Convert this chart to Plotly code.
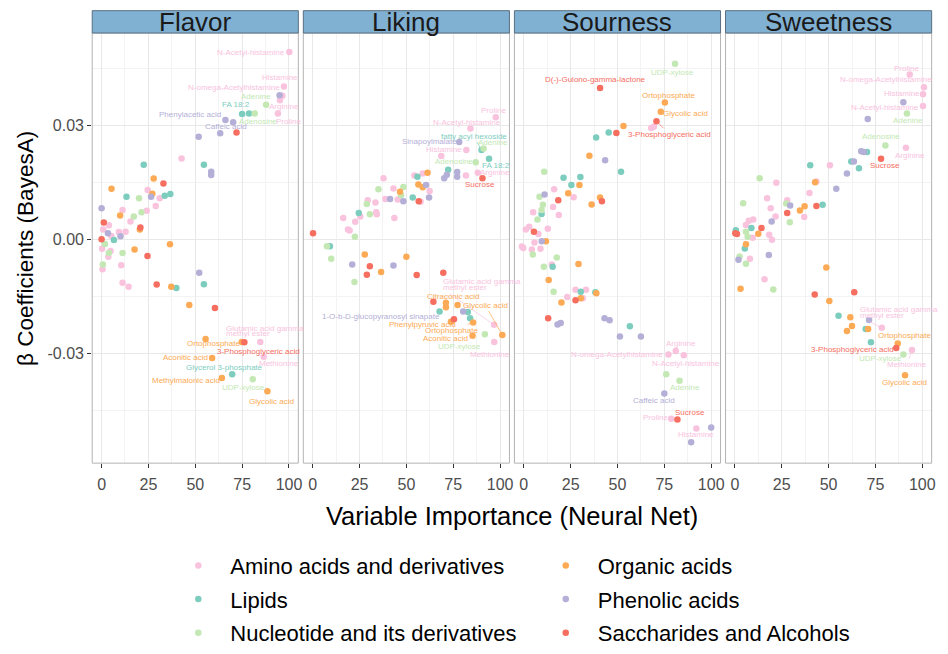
import plotly.graph_objects as go

# ---------------- data ----------------
categories = ["Amino acids and derivatives", "Lipids", "Nucleotide and its derivatives",
              "Organic acids", "Phenolic acids", "Saccharides and Alcohols"]
cat_codes = ["A", "L", "N", "O", "P", "S"]
cat_colors = ["#F9C3DE", "#7DCDBE", "#C3E8B4", "#FCAA55", "#B4AFD7", "#F56E5F"]
panels = ["Flavor", "Liking", "Sourness", "Sweetness"]

x_ticks = [0, 25, 50, 75, 100]
y_ticks = [-0.03, 0.0, 0.03]
y_ticktext = ["-0.03", "0.00", "0.03"]

flavor_x = [100.2, 97.3, 95.0, 96.5, 95.2, 87.8, 75.0, 78.7, 81.7, 94.1, 66.1, 70.2, 72.0, 63.3, 51.8,
            42.7, 22.5, 54.6, 58.5, 58.5, 27.8, 33.0, 5.3, 13.3, 20.0, 24.6, 26.4, 27.1, 31.0, 33.7,
            36.7, 28.9, 0.0, 11.2, 9.9, 17.2, 21.3, 24.1, 15.4, 1.2, 3.9, 20.7, 20.4, 0.9, 9.2,
            12.8, 3.4, 5.2, 10.1, 6.6, 0.0, 1.8, 0.3, 36.5, 17.6, 4.8, 3.9, 11.2, 3.6, 24.5,
            0.7, 0.5, 10.5, 52.1, 11.2, 14.4, 29.4, 37.2, 39.9, 54.6, 46.8, 60.5, 55.5, 74.8, 76.2,
            84.7, 86.5, 59.0, 69.7, 64.2, 80.7, 88.5]
flavor_y = [0.0493, 0.0402, 0.0379, 0.0378, 0.0366, 0.0354, 0.0330, 0.0331, 0.0331, 0.0331, 0.0314,
            0.0308, 0.0281, 0.0279, 0.0270, 0.0213, 0.0196, 0.0196, 0.0178, 0.0169, 0.0160, 0.0147,
            0.0133, 0.0112, 0.0108, 0.0130, 0.0112, 0.0120, 0.0108, 0.0115, 0.0119, 0.0088, 0.0082,
            0.0077, 0.0063, 0.0060, 0.0071, 0.0075, 0.0047, 0.0044, 0.0037, 0.0031, 0.0026, 0.0026,
            0.0019, 0.0020, 0.0016, 0.0009, 0.0008, -0.0002, 0.0000, -0.0012, -0.0025, -0.0013,
            -0.0027, -0.0031, -0.0036, -0.0036, -0.0046, -0.0044, -0.0066, -0.0079, -0.0068, -0.0088,
            -0.0114, -0.0125, -0.0119, -0.0125, -0.0128, -0.0118, -0.0173, -0.0181, -0.0262, -0.0270,
            -0.0271, -0.0270, -0.0309, -0.0312, -0.0355, -0.0365, -0.0368, -0.0400]
flavor_cat = ["A", "A", "P", "A", "A", "N", "L", "L", "N", "A", "P", "P", "S", "P", "P",
              "A", "L", "L", "P", "P", "O", "S", "O", "L", "N", "A", "P", "O", "A", "L",
              "L", "A", "P", "A", "O", "N", "N", "A", "A", "S", "A", "S", "O", "A", "A",
              "A", "P", "A", "P", "L", "S", "N", "A", "O", "O", "A", "N", "N", "A", "S",
              "N", "A", "A", "P", "A", "A", "S", "O", "L", "L", "O", "S", "O", "O", "S",
              "A", "A", "O", "L", "O", "N", "O"]
flavor_label = ["N-Acetyl-histamine", "Histamine", "", "N-omega-Acetylhistamine", "Arginine", "Adenine",
                "FA 18:2", "", "Adenosine", "Proline", "Phenylacetic acid", "", "", "Caffeic acid"] + [""] * 58 + \
               ["Ortophosphate", "", "3-Phosphoglyceric acid", "Glutamic acid gamma\nmethyl ester", "Methionine",
                "Aconitic acid", "Glycerol 3-phosphate", "Methylmalonic acid", "UDP-xylose", "Glycolic acid"]

liking_x = [97.7, 84.2, 78.2, 90.1, 91.2, 82.0, 94.1, 68.6, 87.0, 72.3, 77.1, 77.1, 71.6, 70.2, 81.8,
            88.1, 90.6, 61.3, 55.9, 58.7, 54.3, 56.4, 58.7, 60.5, 62.4, 62.1, 53.4, 56.6, 57.6, 46.6,
            48.4, 43.1, 47.2, 48.4, 45.4, 38.8, 41.3, 37.8, 35.1, 29.4, 28.9, 33.5, 30.5, 33.9, 34.2,
            43.6, 24.6, 25.4, 16.3, 22.7, 18.8, 19.7, 22.5, 0.2, 7.6, 9.2, 9.9, 27.8, 21.1, 30.5,
            28.9, 36.5, 43.1, 50.0, 55.5, 22.3, 69.7, 64.4, 71.1, 71.1, 77.3, 67.7, 80.3, 82.8, 84.0,
            75.4, 73.8, 85.6, 96.8, 101.2, 85.3, 91.9, 96.9]
liking_y = [0.0321, 0.0292, 0.0256, 0.0235, 0.0239, 0.0235, 0.0212, 0.0219, 0.0203, 0.0183, 0.0177,
            0.0165, 0.0170, 0.0161, 0.0168, 0.0175, 0.0161, 0.0175, 0.0165, 0.0173, 0.0168, 0.0144,
            0.0137, 0.0143, 0.0127, 0.0110, 0.0110, 0.0100, 0.0099, 0.0125, 0.0138, 0.0134, 0.0116,
            0.0100, 0.0105, 0.0106, 0.0106, 0.0161, 0.0132, 0.0103, 0.0093, 0.0097, 0.0066, 0.0071,
            0.0066, 0.0056, 0.0069, 0.0060, 0.0056, 0.0046, 0.0026, 0.0023, 0.0007, 0.0016, -0.0018,
            -0.0018, -0.0051, -0.0040, -0.0066, -0.0071, -0.0093, -0.0086, -0.0069, -0.0046, -0.0094,
            -0.0112, -0.0088, -0.0164, -0.0167, -0.0179, -0.0173, -0.0190, -0.0190, -0.0191, -0.0208,
            -0.0210, -0.0217, -0.0219, -0.0225, -0.0252, -0.0254, -0.0250, -0.0270]
liking_cat = ["A", "A", "P", "L", "N", "A", "L", "A", "N", "L", "P", "P", "P", "P", "A",
              "A", "S", "O", "L", "A", "A", "O", "O", "P", "A", "P", "L", "S", "A", "O",
              "N", "A", "N", "P", "A", "A", "P", "A", "N", "A", "N", "A", "N", "A", "A",
              "A", "L", "A", "A", "A", "A", "A", "N", "S", "N", "L", "N", "O", "P", "S",
              "S", "O", "P", "O", "S", "N", "S", "S", "O", "O", "O", "L", "P", "L", "L",
              "S", "O", "O", "A", "O", "O", "N", "A"]
liking_label = ["Proline", "N-Acetyl-histamine", "Sinapoylmalate", "fatty acyl hexoside", "Adenine",
                "Histamine", "FA 18:2", "", "Adenosine", "", "", "", "", "", "", "Arginine", "Sucrose"] + \
               [""] * 51 + \
               ["Citraconic acid", "", "", "", "1-O-b-D-glucopyranosyl sinapate", "", "", "",
                "Phenylpyruvic acid", "Ortophosphate", "Glutamic acid gamma\nmethyl ester", "Glycolic acid",
                "Aconitic acid", "UDP-xylose", "Methionine"]

sourness_x = [80.7, 40.7, 75.3, 73.1, 70.8, 68.0, 69.4, 53.2, 45.3, 49.4, 38.6, 35.0, 43.4, 10.9, 51.9,
              21.2, 30.2, 25.4, 29.7, 16.2, 11.1, 8.4, 18.4, 23.7, 26.6, 40.7, 41.7, 36.2, 10.2, 15.6,
              9.5, 5.0, 9.5, 18.7, 7.3, 1.1, 2.9, 5.4, 7.8, 12.8, -1.0, -0.3, 5.7, 9.6, 11.8,
              4.3, 8.9, 4.8, 17.6, 10.7, 15.0, 15.4, 29.2, 13.3, 15.9, 27.6, 30.4, 33.2, 23.2, 31.5,
              30.4, 27.6, 20.1, 38.2, 38.7, 13.0, 18.0, 19.7, 43.1, 45.8, 56.6, 51.3, 62.5, 81.1, 77.2,
              85.4, 76.0, 83.1, 75.0, 78.7, 82.0, 92.1, 100.0, 89.3]
sourness_y = [0.0462, 0.0398, 0.0360, 0.0336, 0.0311, 0.0293, 0.0296, 0.0298, 0.0281, 0.0280, 0.0268,
              0.0220, 0.0208, 0.0178, 0.0178, 0.0162, 0.0164, 0.0143, 0.0143, 0.0132, 0.0118, 0.0112,
              0.0103, 0.0121, 0.0111, 0.0110, 0.0100, 0.0092, 0.0091, 0.0085, 0.0077, 0.0071, 0.0067,
              0.0064, 0.0052, 0.0026, 0.0033, 0.0020, 0.0014, 0.0028, -0.0019, -0.0023, -0.0008,
              -0.0005, -0.0005, -0.0027, -0.0025, -0.0040, -0.0048, -0.0072, -0.0066, -0.0072, -0.0065,
              -0.0107, -0.0138, -0.0133, -0.0138, -0.0133, -0.0152, -0.0155, -0.0155, -0.0160, -0.0166,
              -0.0139, -0.0142, -0.0208, -0.0224, -0.0220, -0.0208, -0.0213, -0.0229, -0.0256, -0.0256,
              -0.0294, -0.0303, -0.0305, -0.0355, -0.0372, -0.0406, -0.0472, -0.0474, -0.0498, -0.0495,
              -0.0534]
sourness_cat = ["N", "S", "O", "O", "S", "A", "A", "O", "L", "S", "L", "O", "P", "N", "L",
                "L", "L", "L", "O", "A", "P", "N", "S", "O", "A", "O", "S", "O", "N", "A",
                "N", "A", "L", "A", "N", "A", "A", "S", "A", "A", "A", "A", "A", "P", "O",
                "A", "A", "N", "N", "N", "A", "L", "O", "O", "N", "A", "L", "A", "A", "A",
                "O", "S", "O", "L", "O", "S", "P", "P", "P", "P", "L", "P", "P", "A", "A",
                "A", "N", "N", "P", "A", "S", "A", "P", "P"]
sourness_label = ["UDP-xylose", "D(-)-Gulono-gamma-lactone", "Ortophosphate", "Glycolic acid",
                  "3-Phosphoglyceric acid"] + [""] * 68 + \
                 ["Arginine", "N-omega-Acetylhistamine", "N-Acetyl-histamine", "", "Adenine", "Caffeic acid",
                  "Proline", "Sucrose", "Histamine", "", ""]

sweetness_x = [93.3, 100.9, 100.4, 89.9, 100.4, 91.8, 70.9, 80.3, 91.3, 67.4, 68.8, 70.5, 78.0, 40.2, 50.7,
               62.1, 63.5, 66.2, 59.8, 13.2, 22.1, 42.8, 43.5, 54.1, 39.8, 17.2, 27.9, 4.4, 27.4, 29.5,
               19.1, 37.2, 34.7, 43.5, 46.8, 27.9, 21.7, 37.0, 29.3, 19.6, 7.4, 9.8, 5.9, 8.8, 14.2,
               0.5, 0.2, 1.1, 5.9, 9.5, 6.8, 12.5, 18.3, 19.8, 5.9, 5.3, 2.5, 1.9, 8.0, 5.9,
               18.1, 48.8, 15.8, 3.0, 20.5, 42.6, 63.7, 50.4, 55.3, 61.6, 71.6, 78.4, 62.5, 59.8, 69.8,
               71.1, 72.6, 86.9, 86.1, 94.5, 89.9, 90.8]
sweetness_y = [0.0434, 0.0400, 0.0382, 0.0361, 0.0351, 0.0331, 0.0317, 0.0247, 0.0241, 0.0232, 0.0230,
               0.0230, 0.0212, 0.0195, 0.0195, 0.0205, 0.0205, 0.0187, 0.0173, 0.0161, 0.0149, 0.0150,
               0.0152, 0.0133, 0.0122, 0.0108, 0.0103, 0.0095, 0.0094, 0.0089, 0.0082, 0.0087, 0.0076,
               0.0088, 0.0091, 0.0069, 0.0060, 0.0059, 0.0045, 0.0047, 0.0049, 0.0052, 0.0038, 0.0030,
               0.0030, 0.0024, 0.0016, 0.0014, 0.0020, 0.0004, 0.0007, 0.0015, 0.0012, -0.0001, -0.0013,
               -0.0024, -0.0045, -0.0054, -0.0051, -0.0064, -0.0041, -0.0074, -0.0105, -0.0130, -0.0132,
               -0.0145, -0.0139, -0.0162, -0.0201, -0.0205, -0.0212, -0.0233, -0.0228, -0.0241, -0.0236,
               -0.0236, -0.0271, -0.0274, -0.0286, -0.0291, -0.0303, -0.0358]
sweetness_cat = ["A", "A", "A", "P", "A", "N", "P", "N", "A", "P", "P", "L", "S", "L", "A",
                 "L", "P", "L", "P", "N", "A", "O", "A", "P", "A", "A", "A", "N", "N", "P",
                 "A", "O", "O", "S", "L", "S", "A", "A", "N", "P", "A", "A", "A", "L", "S",
                 "L", "S", "S", "N", "A", "N", "O", "A", "A", "O", "L", "N", "P", "A", "N",
                 "P", "O", "A", "O", "N", "S", "S", "O", "L", "O", "P", "A", "O", "O", "L",
                 "O", "L", "O", "S", "A", "N", "O"]
sweetness_label = ["Proline", "N-omega-Acetylhistamine", "Histamine", "", "N-Acetyl-histamine", "Adenine", "",
                   "Adenosine", "Arginine", "", "", "", "Sucrose"] + [""] * 58 + \
                  ["Glutamic acid gamma\nmethyl ester", "", "", "", "", "", "Ortophosphate",
                   "3-Phosphoglyceric acid", "Methionine", "UDP-xylose", "Glycolic acid"]

panel_data = {
    "Flavor": (flavor_x, flavor_y, flavor_cat, flavor_label),
    "Liking": (liking_x, liking_y, liking_cat, liking_label),
    "Sourness": (sourness_x, sourness_y, sourness_cat, sourness_label),
    "Sweetness": (sweetness_x, sweetness_y, sweetness_cat, sweetness_label),
}

# ---------------- label placement (pixel offsets: dx, dy(down), connector) ----------------
label_offsets = {
    "Flavor": {
        "N-Acetyl-histamine": (-38, 0, False), "Histamine": (-4, -9, False),
        "N-omega-Acetylhistamine": (-48, -8, False), "Arginine": (4, 6, False),
        "Adenine": (-10, -8, False), "FA 18:2": (-6, -9, False), "Adenosine": (3, 8, False),
        "Proline": (11, 8, False), "Phenylacetic acid": (-35, -6, False), "Caffeic acid": (6, -7, False),
        "Ortophosphate": (8, 5, False), "3-Phosphoglyceric acid": (14, 9, False),
        "Glutamic acid gamma\nmethyl ester": (-36, -13, False), "Methionine": (15, 7, False),
        "Aconitic acid": (-27, 0, False), "Glycerol 3-phosphate": (-8, -7, False),
        "Methylmalonic acid": (-36, 2, False), "UDP-xylose": (-9, 8, False), "Glycolic acid": (4, 10, False),
    },
    "Liking": {
        "Proline": (-2, -7, False), "N-Acetyl-histamine": (-3, -6, False), "Sinapoylmalate": (-30, -1, False),
        "fatty acyl hexoside": (-8, -14, True), "Adenine": (9, -6, False), "Histamine": (-22, -1, False),
        "FA 18:2": (7, 7, False), "Adenosine": (-22, -1, False), "Arginine": (17, 0, False),
        "Sucrose": (-2, 6, False), "Citraconic acid": (7, -6, False),
        "1-O-b-D-glucopyranosyl sinapate": (-82, 5, False), "Phenylpyruvic acid": (-28, 3, False),
        "Ortophosphate": (-22, 8, True), "Glutamic acid gamma\nmethyl ester": (-53, -43, True),
        "Glycolic acid": (-17, -30, True), "Aconitic acid": (-27, 3, False), "UDP-xylose": (-25, 12, False),
        "Methionine": (-4, 13, False),
    },
    "Sourness": {
        "UDP-xylose": (-3, 9, False), "D(-)-Gulono-gamma-lactone": (-5, -9, False),
        "Ortophosphate": (4, -7, False), "Glycolic acid": (25, 2, False),
        "3-Phosphoglyceric acid": (13, 13, True), "Arginine": (5, -8, False),
        "N-omega-Acetylhistamine": (-51, 0, False), "N-Acetyl-histamine": (2, 8, False),
        "Adenine": (5, 7, False), "Caffeic acid": (-10, 7, False), "Proline": (-16, -1, False),
        "Sucrose": (13, -7, False), "Histamine": (0, 6, False),
    },
    "Sweetness": {
        "Proline": (-3, -6, False), "N-omega-Acetylhistamine": (-38, -8, False), "Histamine": (-21, -1, False),
        "N-Acetyl-histamine": (-38, 2, False), "Adenine": (1, 7, False), "Adenosine": (-4, -9, False),
        "Arginine": (4, 8, False), "Sucrose": (4, 7, False),
        "Glutamic acid gamma\nmethyl ester": (-24, -18, True), "Ortophosphate": (7, -8, False),
        "3-Phosphoglyceric acid": (-44, 1, False), "Methionine": (-5, 15, True),
        "UDP-xylose": (-23, 4, False), "Glycolic acid": (-1, 7, False),
    },
}

# ---------------- layout geometry ----------------
W, H = 948, 654
FONT = "Liberation Sans, Arial, sans-serif"
panel_left_px = [92.6, 304.6, 516.6, 728.6]
panel_w_px = 207.0
panel_top_px, panel_bot_px = 34.0, 477.0
strip_top_px = 11.0

color_of = dict(zip(cat_codes, cat_colors))
name_of = dict(zip(cat_codes, categories))

fig = go.Figure()
annotations = []
shapes = []

for i, pname in enumerate(panels):
    n = "" if i == 0 else str(i + 1)
    xs, ys, cs, labs = panel_data[pname]
    npts = min(len(xs), len(ys), len(cs))
    for code in cat_codes:
        idx = [k for k in range(npts) if cs[k] == code]
        fig.add_trace(go.Scatter(
            x=[xs[k] for k in idx], y=[ys[k] for k in idx], mode="markers",
            marker=dict(color=color_of[code], size=6.5, line=dict(width=0)),
            name=name_of[code], legendgroup=code, showlegend=(i == 0),
            legend="legend" if code in ("A", "L", "N") else "legend2",
            xaxis="x" + n, yaxis="y" + n, hoverinfo="skip"))
    # labels
    for k in range(min(npts, len(labs))):
        lab = labs[k]
        if not lab:
            continue
        dx, dy, seg = label_offsets[pname][lab]
        col = color_of[cs[k]]
        fnt = dict(family=FONT, size=8, color=col)
        if "\n" in lab:
            l1, l2 = lab.split("\n")
            annotations.append(dict(x=xs[k], y=ys[k], xref="x" + n, yref="y" + n, text=l1,
                                    showarrow=False, xanchor="left", xshift=dx, yshift=-dy, font=fnt))
            if seg:
                annotations.append(dict(x=xs[k], y=ys[k], xref="x" + n, yref="y" + n, text=l2,
                                        showarrow=True, ax=dx, ay=dy + 6, xanchor="left",
                                        arrowhead=0, arrowwidth=0.7, arrowcolor=col, standoff=3, font=fnt))
            else:
                annotations.append(dict(x=xs[k], y=ys[k], xref="x" + n, yref="y" + n, text=l2,
                                        showarrow=False, xanchor="left", xshift=dx, yshift=-(dy + 5), font=fnt))
        elif seg:
            annotations.append(dict(x=xs[k], y=ys[k], xref="x" + n, yref="y" + n, text=lab,
                                    showarrow=True, ax=dx, ay=dy, arrowhead=0, arrowwidth=0.7,
                                    arrowcolor=col, standoff=3, font=fnt))
        else:
            annotations.append(dict(x=xs[k], y=ys[k], xref="x" + n, yref="y" + n, text=lab,
                                    showarrow=False, xshift=dx, yshift=-dy, font=fnt))

    left = panel_left_px[i] / W
    right = (panel_left_px[i] + panel_w_px) / W
    xa = dict(domain=[left, right], range=[-5, 105], tickvals=x_ticks, ticks="outside", ticklen=4,
              tickcolor="#333333", tickwidth=1, showgrid=True, gridcolor="#e8e8e8", gridwidth=1,
              zeroline=False, showline=False, ticklabelstandoff=3,
              minor=dict(dtick=12.5, tick0=0, showgrid=True, gridcolor="#f3f3f3", gridwidth=1),
              tickfont=dict(family=FONT, size=16, color="#4d4d4d"), anchor="y" + n, fixedrange=True)
    ya = dict(domain=[1 - panel_bot_px / H, 1 - panel_top_px / H], range=[-0.0589, 0.0543],
              tickvals=y_ticks, ticktext=y_ticktext, showgrid=True, gridcolor="#e8e8e8", gridwidth=1,
              zeroline=False, showline=False,
              minor=dict(dtick=0.015, tick0=0.0, showgrid=True, gridcolor="#f3f3f3", gridwidth=1),
              anchor="x" + n, fixedrange=True,
              tickfont=dict(family=FONT, size=16, color="#4d4d4d"))
    if i == 0:
        ya.update(ticks="outside", ticklen=4, tickcolor="#333333", tickwidth=1, showticklabels=True)
    else:
        ya.update(ticks="", showticklabels=False, matches="y")
    fig.update_layout(**{"xaxis" + n: xa, "yaxis" + n: ya})

    # panel border
    shapes.append(dict(type="rect", xref="x" + n + " domain", yref="y" + n + " domain",
                       x0=0, x1=1, y0=0, y1=1, line=dict(color="#b3b3b3", width=1), layer="above"))
    # strip
    shapes.append(dict(type="rect", xref="x" + n + " domain", yref="paper",
                       x0=0, x1=1, y0=1 - panel_top_px / H, y1=1 - strip_top_px / H,
                       fillcolor="#80B1D3", line=dict(color="#5a6f80", width=1), layer="above"))
    annotations.append(dict(x=0.5, y=1 - (panel_top_px + strip_top_px) / 2 / H, xref="x" + n + " domain",
                            yref="paper", text=pname, showarrow=False, xanchor="center", yanchor="middle",
                            font=dict(family=FONT, size=26, color="#1a1a1a")))

# axis titles
annotations.append(dict(x=(panel_left_px[0] + panel_left_px[3] + panel_w_px) / 2 / W, y=1 - 531 / H,
                        xref="paper", yref="paper", text="Variable Importance (Neural Net)", showarrow=False,
                        xanchor="center", yanchor="middle", font=dict(family=FONT, size=25.5, color="black")))
annotations.append(dict(x=25 / W, y=1 - (panel_top_px + panel_bot_px) / 2 / H, xref="paper", yref="paper",
                        text="β Coefficients (BayesA)", showarrow=False, textangle=-90,
                        xanchor="center", yanchor="middle", font=dict(family=FONT, size=22.5, color="black")))

leg_common = dict(orientation="v", xanchor="left", yanchor="top", bgcolor="rgba(0,0,0,0)",
                  font=dict(family=FONT, size=22, color="black"), tracegroupgap=2, itemsizing="trace",
                  itemwidth=54)
fig.update_layout(
    width=W, height=H, margin=dict(l=0, r=0, t=0, b=0),
    paper_bgcolor="white", plot_bgcolor="white",
    font=dict(family=FONT),
    legend=dict(x=167 / W, y=1 - 561 / H, **leg_common),
    legend2=dict(x=536 / W, y=1 - 561 / H, **leg_common),
    annotations=annotations, shapes=shapes,
)

fig.write_html("out.html")
